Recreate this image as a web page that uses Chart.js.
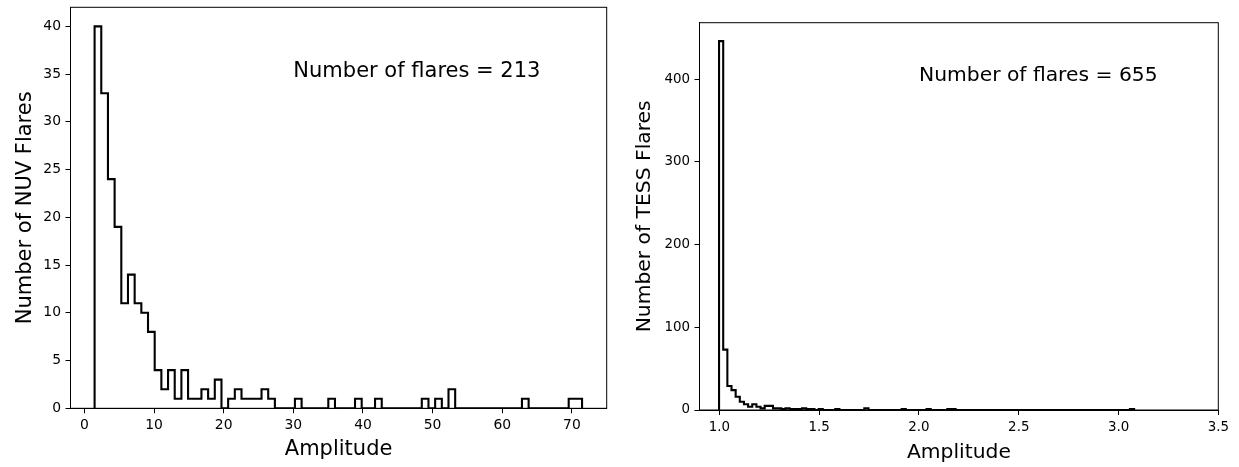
<!DOCTYPE html>
<html>
<head>
<meta charset="utf-8">
<script src="https://cdn.jsdelivr.net/npm/chart.js@4.4.0/dist/chart.umd.min.js"></script>
<style>
    body { margin: 0; background: #fff; }
    #wrap { position: relative; width: 1239px; height: 467px; }
    canvas { position: absolute; top: 0; }
</style>
</head>
<body>
<div id="wrap">
    <canvas id="graficoNuv" width="620" height="467" style="left:0"></canvas>
    <canvas id="graficoTess" width="619" height="467" style="left:620px"></canvas>
</div>
<script>
// NUV flares, 73 bins
const nuvCounts = [
    40, 33, 24, 19, 11, 14, 11, 10, 8, 4,
    2, 4, 1, 4, 1, 1, 2, 1, 3, 0,
    1, 2, 1, 1, 1, 2, 1, 0, 0, 0,
    1, 0, 0, 0, 0, 1, 0, 0, 0, 1,
    0, 0, 1, 0, 0, 0, 0, 0, 0, 1,
    0, 1, 0, 2, 0, 0, 0, 0, 0, 0,
    0, 0, 0, 0, 1, 0, 0, 0, 0, 0,
    0, 1, 1
]
const nuvBinRange = [1.46, 71.46]
const nuvXTicks = [0, 10, 20, 30, 40, 50, 60, 70]
const nuvYTicks = [0, 5, 10, 15, 20, 25, 30, 35, 40]
const nuvTotal = 213

// TESS flares, 100 bins
const tessCounts = [
    446, 73, 29, 24, 16, 10, 7, 4, 7, 4,
    2, 5, 5, 2, 2, 1, 2, 1, 1, 1,
    2, 1, 1, 0, 1, 0, 0, 0, 1, 0,
    0, 0, 0, 0, 0, 2, 0, 0, 0, 0,
    0, 0, 0, 0, 1, 0, 0, 0, 0, 0,
    1, 0, 0, 0, 0, 1, 1, 0, 0, 0,
    0, 0, 0, 0, 0, 0, 0, 0, 0, 0,
    0, 0, 0, 0, 0, 0, 0, 0, 0, 0,
    0, 0, 0, 0, 0, 0, 0, 0, 0, 0,
    0, 0, 0, 0, 0, 0, 0, 0, 0, 1
]
const tessBinRange = [0.998, 3.078]
const tessXTicks = [1.0, 1.5, 2.0, 2.5, 3.0, 3.5]
const tessYTicks = [0, 100, 200, 300, 400]
const tessTotal = 655

const FONTE = 'DejaVu Sans'

// contorno tipo histtype='step'
function stepPoints(counts, range) {
    const w = (range[1] - range[0]) / counts.length
    const pts = [{ x: range[0], y: 0 }]
    counts.forEach((c, i) => pts.push({ x: range[0] + (i + 1) * w, y: c }))
    pts.push({ x: range[1], y: 0 })
    return pts
}

const moldura = {
    id: 'moldura',
    afterDatasetsDraw(chart) {
        const { ctx, chartArea: a } = chart
        ctx.save()
        ctx.strokeStyle = '#000'
        ctx.lineWidth = 1
        ctx.strokeRect(a.left, a.top, a.right - a.left, a.bottom - a.top)
        ctx.restore()
    }
}

const nota = {
    id: 'nota',
    afterDraw(chart, args, opts) {
        const { ctx, scales } = chart
        ctx.save()
        ctx.fillStyle = '#000'
        ctx.font = opts.size + 'px "' + FONTE + '"'
        ctx.textAlign = 'left'
        ctx.textBaseline = 'alphabetic'
        ctx.fillText(opts.text, scales.x.getPixelForValue(opts.x), scales.y.getPixelForValue(opts.y))
        ctx.restore()
    }
}

function fixar(size, key) {
    return function (scale) {
        scale[key] = size
        scale.paddingTop = 0
        scale.paddingBottom = 0
        scale.paddingLeft = 0
        scale.paddingRight = 0
    }
}

function criarHistograma(id, cfg) {
    const el = document.getElementById(id)
    new Chart(el, {
        type: 'line',
        data: {
            datasets: [{
                data: stepPoints(cfg.counts, cfg.range),
                stepped: 'after',
                borderColor: '#000',
                borderWidth: 2.1,
                pointRadius: 0,
                fill: false,
                tension: 0
            }]
        },
        options: {
            responsive: false,
            animation: false,
            events: [],
            layout: { padding: cfg.padding },
            plugins: {
                legend: { display: false },
                tooltip: { enabled: false },
                nota: { text: cfg.nota.text, x: cfg.nota.x, y: cfg.nota.y, size: cfg.titleSize }
            },
            scales: {
                x: {
                    type: 'linear',
                    min: cfg.xMin,
                    max: cfg.xMax,
                    afterBuildTicks: s => { s.ticks = cfg.xTicks.map(v => ({ value: v })) },
                    afterFit: fixar(cfg.xHeight, 'height'),
                    grid: { drawOnChartArea: false, tickLength: 5, tickColor: '#000', tickWidth: 1 },
                    border: { color: '#000', width: 1 },
                    ticks: {
                        color: '#000',
                        padding: 4,
                        autoSkip: false,
                        maxRotation: 0,
                        font: { family: FONTE, size: cfg.tickSize },
                        callback: cfg.xFmt
                    },
                    title: {
                        display: true,
                        text: 'Amplitude',
                        color: '#000',
                        font: { family: FONTE, size: cfg.titleSize },
                        padding: { top: 0, bottom: cfg.xTitlePad }
                    }
                },
                y: {
                    type: 'linear',
                    min: 0,
                    max: cfg.yMax,
                    afterBuildTicks: s => { s.ticks = cfg.yTicks.map(v => ({ value: v })) },
                    afterFit: fixar(cfg.yWidth, 'width'),
                    grid: { drawOnChartArea: false, tickLength: 5, tickColor: '#000', tickWidth: 1 },
                    border: { color: '#000', width: 1 },
                    ticks: {
                        color: '#000',
                        padding: 4.5,
                        font: { family: FONTE, size: cfg.tickSize },
                        callback: v => String(v)
                    },
                    title: {
                        display: true,
                        text: cfg.yTitle,
                        color: '#000',
                        font: { family: FONTE, size: cfg.titleSize },
                        padding: { top: cfg.yTitlePad, bottom: 0 }
                    }
                }
            }
        },
        plugins: [moldura, nota]
    })
}

document.addEventListener('DOMContentLoaded', () => {
    criarHistograma('graficoNuv', {
        counts: nuvCounts,
        range: nuvBinRange,
        xMin: -2.0, xMax: 75.0, yMax: 42,
        xTicks: nuvXTicks, yTicks: nuvYTicks,
        xFmt: v => String(v),
        yTitle: 'Number of NUV Flares',
        titleSize: 21, tickSize: 13.9,
        padding: { top: 7.3, right: 13.3, left: 0, bottom: 0 },
        yWidth: 70.5, xHeight: 58.7,
        yTitlePad: 12.6, xTitlePad: 4.6,
        nota: { text: 'Number of flares = ' + nuvTotal, x: 30, y: 34.7 }
    })
    criarHistograma('graficoTess', {
        counts: tessCounts,
        range: tessBinRange,
        xMin: 0.9, xMax: 3.5, yMax: 468.3,
        xTicks: tessXTicks, yTicks: tessYTicks,
        xFmt: v => v.toFixed(1),
        yTitle: 'Number of TESS Flares',
        titleSize: 20.3, tickSize: 13.4,
        padding: { top: 22.7, right: 20.7, left: 0, bottom: 0 },
        yWidth: 79.5, xHeight: 57,
        yTitlePad: 12.8, xTitlePad: 2,
        nota: { text: 'Number of flares = ' + tessTotal, x: 2.0, y: 398 }
    })
})
</script>
</body>
</html>
